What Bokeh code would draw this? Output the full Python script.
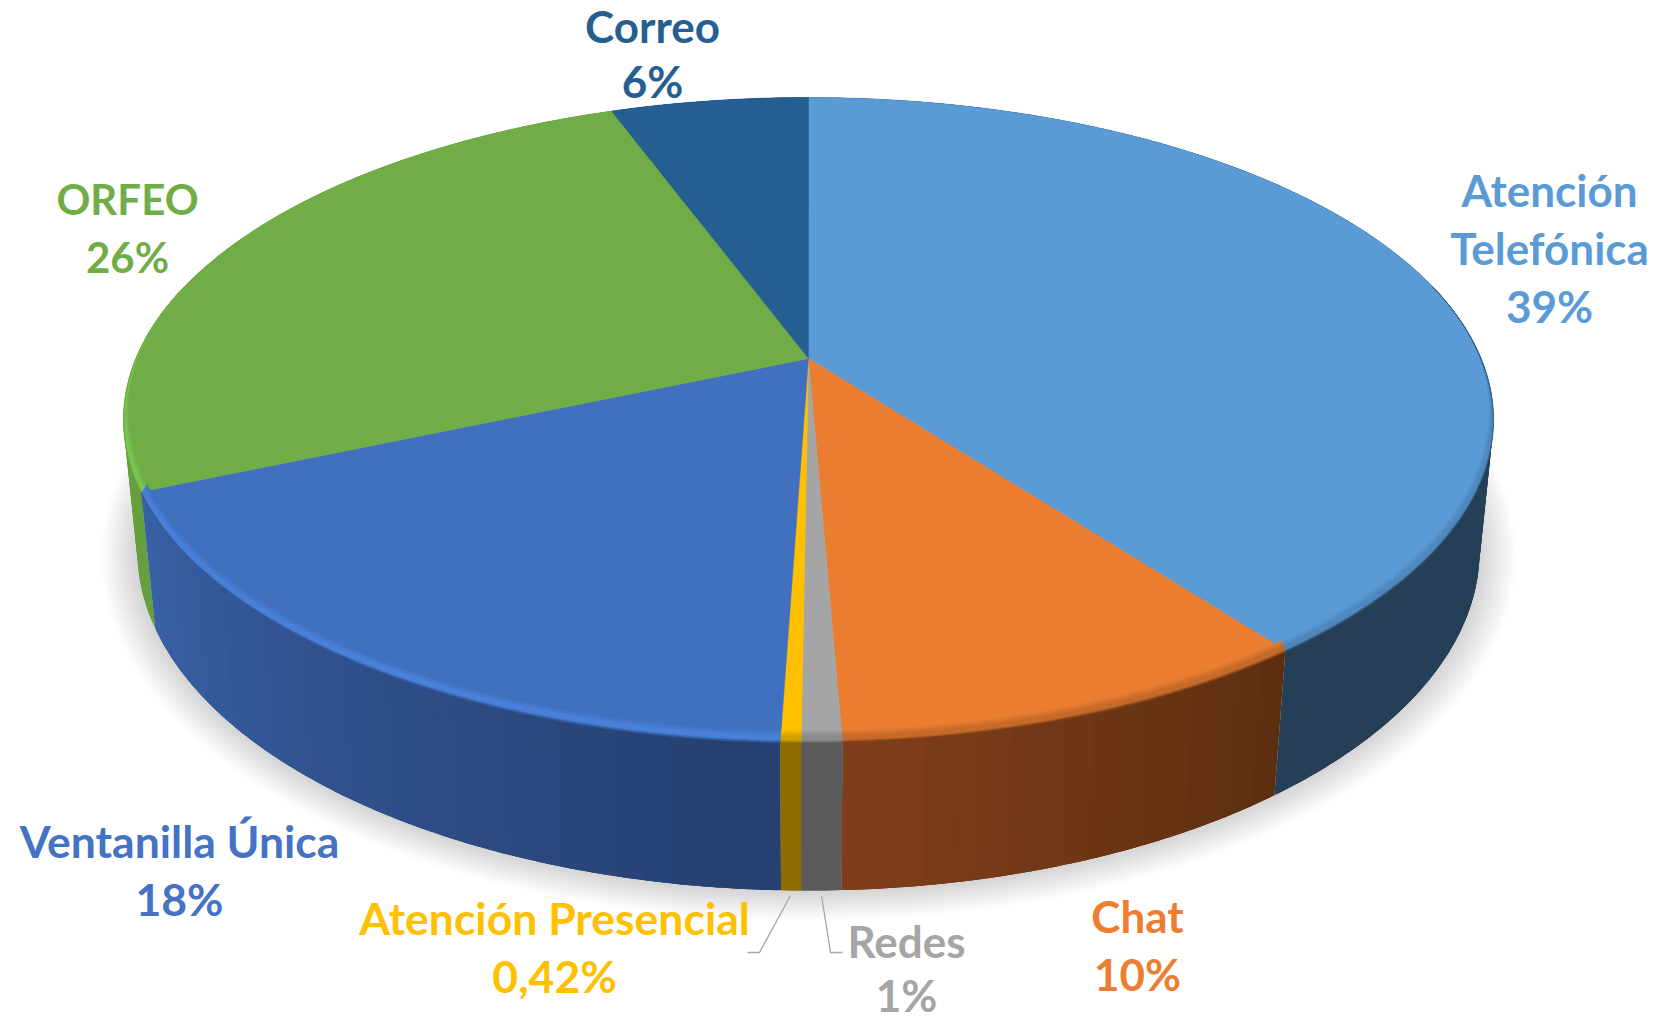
import numpy as np
from bokeh.plotting import figure
from bokeh.models import Range1d
from bokeh.core.properties import value
from bokeh.embed import file_html
from bokeh.resources import INLINE

# ---- data ----
categories = ["Atención Telefónica", "Chat", "Redes", "Atención Presencial",
              "Ventanilla Única", "ORFEO", "Correo"]
shares = [39.72, 9.63, 0.79, 0.4, 17.96, 25.9, 5.6]
share_labels = ["39%", "10%", "1%", "0,42%", "18%", "26%", "6%"]

# ---- styles ----
top_colors = ["#5B9BD5", "#EB7D31", "#A5A5A5", "#FFC000", "#4170BF", "#70AD47", "#255E91"]
text_colors = ["#5B9BD5", "#ED7D31", "#A5A5A5", "#FFC000", "#4472C4", "#70AD47", "#255E91"]
side_start = ["#243F56", "#5A2D10", "#606060", "#8E6C00", "#263F70", "#669F3E", "#1B4468"]
side_end = ["#243F56", "#7F3F19", "#585858", "#8E6C00", "#3A62A8", "#62A03C", "#1B4468"]
bevel_mid = ["#4E87BC", "#C46A2A", "#8A8A8A", "#D0A000", "#4A82DA", "#7CC653", "#255E91"]

# ---- label layout, in page pixels ----
label_lines = [["Atención", "Telefónica", "39%"], ["Chat", "10%"], ["Redes", "1%"],
               ["Atención Presencial", "0,42%"], ["Ventanilla Única", "18%"],
               ["ORFEO", "26%"], ["Correo", "6%"]]
label_x = [1549, 1137, 906, 554, 179, 127, 652]
label_y = [189, 915, 940, 917, 840, 198, 25]
label_step = [58, 58, 54, 58, 58, 58, 55]
label_size = ["44px", "44px", "44px", "44.5px", "44.5px", "42px", "44px"]
leader_xs = [[821, 830, 842], [790, 759, 747]]
leader_ys = [[895, 952, 952], [895, 952, 952]]

# ---- projection of the tilted disc ----
CX, CY = 808.0, 358.0
K, A, B, C, M = 0.1892, 310.4, 672.6, 131.6, 0.02


def project(theta, r=1.0, t=0.0):
    X, Y = r * np.sin(theta), r * np.cos(theta)
    w = 1 + K * Y + M * t
    return CX + B * X / w, CY + (-A * Y + C * t) / w


def rgb(h):
    return np.array([int(h[i:i + 2], 16) for i in (1, 3, 5)], float)


def mix(a, b, s):
    c = rgb(a) * (1 - s) + rgb(b) * s
    return "#%02x%02x%02x" % tuple(int(round(v)) for v in c)


edges = np.radians(np.concatenate([[0], np.cumsum(shares)]) / sum(shares) * 360)

p = figure(width=1660, height=1020, x_range=Range1d(0, 1660), y_range=Range1d(1020, 0),
           toolbar_location=None, output_backend="svg", min_border=0)
p.axis.visible = False
p.grid.visible = False
p.outline_line_color = None
p.background_fill_color = "white"
p.border_fill_color = "white"

# shadow: stacked, slightly larger copies of the lower rim
ring = np.linspace(0, 2 * np.pi, 241)
lx, ly = project(ring, t=1.0)
cy_low = 0.5 * (ly.max() + ly.min())
layers = 14
for i in range(layers, 0, -1):
    e = i / layers
    sx = 1 + e * 36 / (lx.max() - CX)
    sy = 1 + e * 24 / (ly.max() - cy_low)
    p.patch(CX + (lx - CX) * sx, cy_low + e * 6 + (ly - cy_low) * sy,
            fill_color="#000000", fill_alpha=0.012, line_color=None)

# side wall, back strips first, overlapping so that no seam shows
strips = []
for i in range(len(shares)):
    a0, a1 = edges[i], edges[i + 1]
    n = max(2, int(np.degrees(a1 - a0) / 2))
    g = np.linspace(a0, a1, n + 1)
    for j in range(n):
        lo, hi = max(a0, g[j] - 0.03), min(a1, g[j + 1] + 0.03)
        strips.append((lo, hi, mix(side_start[i], side_end[i], (j + .5) / n)))
strips.sort(key=lambda s: -np.cos(0.5 * (s[0] + s[1])))
for a, b, c in strips:
    g = np.linspace(a, b, 6)
    ax, ay = project(g, t=0.0)
    bx, by = project(g[::-1], t=1.0)
    p.patch(np.r_[ax, bx], np.r_[ay, by], fill_color=c, line_color=None)

# top face
for i in range(len(shares)):
    g = np.linspace(edges[i], edges[i + 1], max(3, int(np.degrees(edges[i + 1] - edges[i])) + 2))
    rx, ry = project(g)
    p.patch(np.r_[CX, rx], np.r_[CY, ry], fill_color=top_colors[i],
            line_color=top_colors[i], line_width=0.5)

# soft front edge, tapering off towards the back of the disc
ts = np.linspace(-0.045, 0.012, 9)
for i in range(len(shares)):
    a0, a1 = edges[i], edges[i + 1]
    g = np.linspace(a0, a1, max(3, int(np.degrees(a1 - a0)) + 2))
    g = g[np.cos(g) < 0.25]
    if len(g) < 2:
        continue
    taper = np.clip((0.25 - np.cos(g)) / 0.5, 0, 1)
    for q in range(len(ts) - 1):
        s = (q + .5) / (len(ts) - 1)
        side = mix(side_start[i], side_end[i], 0.5)
        c = mix(top_colors[i], bevel_mid[i], min(1, s / .45)) if s < .7 else mix(bevel_mid[i], side, (s - .7) / .3)
        r0 = 1 + 0.2 * min(ts[q], 0) * taper
        r1 = 1 + 0.2 * min(ts[q + 1], 0) * taper[::-1]
        ox, oy = project(g, r=r0, t=ts[q] * taper)
        ux, uy = project(g[::-1], r=r1, t=ts[q + 1] * taper[::-1])
        p.patch(np.r_[ox, ux], np.r_[oy, uy], fill_color=c, line_color=c, line_width=0.3)

# leader lines
p.multi_line(leader_xs, leader_ys, line_color="#A6A6A6", line_width=1.3)

# labels
tx, ty, tt, tc, ts_ = [], [], [], [], []
for i, lines in enumerate(label_lines):
    for j, s in enumerate(lines):
        tx.append(label_x[i])
        ty.append(label_y[i] + j * label_step[i])
        tt.append(s)
        tc.append(text_colors[i])
        ts_.append(label_size[i])
p.text(tx, ty, text=tt, text_color=tc, text_font=value("Lato"), text_font_style="bold",
       text_font_size=ts_, text_align="center", text_baseline="middle")

open("out.html", "w").write(file_html(p, INLINE))
